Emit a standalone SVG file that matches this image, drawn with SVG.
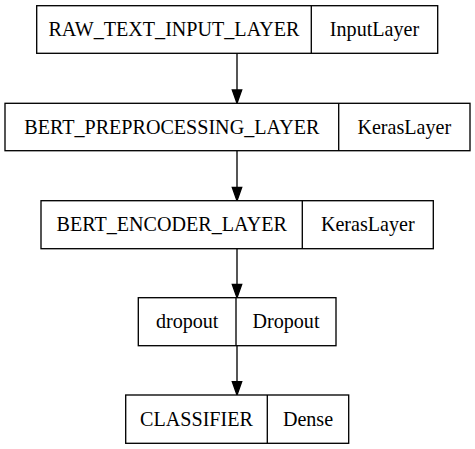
<svg xmlns="http://www.w3.org/2000/svg" width="475" height="449" viewBox="0 0 475 449">
<style>
.box{fill:#fff;stroke:#000;stroke-width:1.33}
.t{font-family:'Liberation Serif','Times New Roman',Times,serif;font-size:20.1px;fill:#000;text-anchor:middle}
.e{stroke:#000;stroke-width:1.33;fill:none}
.h{fill:#000;stroke:#000;stroke-width:1.33}
</style>
<rect width="475" height="449" fill="#fff"/>
<g id="edges">
<line class="e" x1="237" y1="53.3" x2="237" y2="90"/>
<polygon class="h" points="232.3,90 241.7,90 237,103.3"/>
<line class="e" x1="237" y1="150.7" x2="237" y2="187.4"/>
<polygon class="h" points="232.3,187.4 241.7,187.4 237,200.7"/>
<line class="e" x1="237" y1="248.7" x2="237" y2="284.4"/>
<polygon class="h" points="232.3,284.4 241.7,284.4 237,297.7"/>
<line class="e" x1="237" y1="345.7" x2="237" y2="381.7"/>
<polygon class="h" points="232.3,381.7 241.7,381.7 237,395"/>
</g>
<g id="raw_text_input_layer">
<rect class="box" x="36.7" y="5.7" width="401" height="47.6"/>
<line class="e" x1="311.3" y1="5.7" x2="311.3" y2="53.3"/>
<text class="t" x="174" y="36">RAW_TEXT_INPUT_LAYER</text>
<text class="t" x="374.5" y="36">InputLayer</text>
</g>
<g id="bert_preprocessing_layer">
<rect class="box" x="5" y="103.3" width="465" height="47.4"/>
<line class="e" x1="338.7" y1="103.3" x2="338.7" y2="150.7"/>
<text class="t" x="171.8" y="133.5">BERT_PREPROCESSING_LAYER</text>
<text class="t" x="404.3" y="133.5">KerasLayer</text>
</g>
<g id="bert_encoder_layer">
<rect class="box" x="41" y="200.7" width="392.3" height="48"/>
<line class="e" x1="302.3" y1="200.7" x2="302.3" y2="248.7"/>
<text class="t" x="171.7" y="231.2">BERT_ENCODER_LAYER</text>
<text class="t" x="367.8" y="231.2">KerasLayer</text>
</g>
<g id="dropout">
<rect class="box" x="138.3" y="297.7" width="197.7" height="48"/>
<line class="e" x1="236" y1="297.7" x2="236" y2="345.7"/>
<text class="t" x="187.2" y="328.2">dropout</text>
<text class="t" x="286" y="328.2">Dropout</text>
</g>
<g id="classifier">
<rect class="box" x="125.7" y="395" width="223" height="48.3"/>
<line class="e" x1="267.3" y1="395" x2="267.3" y2="443.3"/>
<text class="t" x="196.5" y="425.5">CLASSIFIER</text>
<text class="t" x="308" y="425.5">Dense</text>
</g>
</svg>
